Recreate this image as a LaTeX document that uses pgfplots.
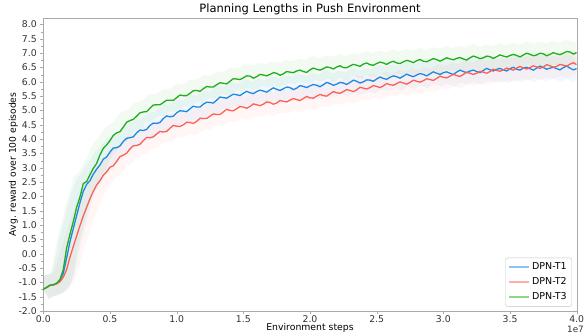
\documentclass[border=0pt]{standalone}
\usepackage{pgfplots}
\pgfplotsset{compat=1.18}
\usepackage{pgfplotstable}
\usepackage{fontspec}
\setmainfont{DejaVu Sans}
\definecolor{cT1}{RGB}{30,136,229}
\definecolor{cT2}{RGB}{255,95,85}
\definecolor{cT3}{RGB}{30,175,30}
\definecolor{spine}{RGB}{170,170,170}
\definecolor{ticktext}{RGB}{50,50,50}
\pgfplotstableread{
x t1 t2 t3
0.000 -1.24 -1.24 -1.24
0.025 -1.18 -1.18 -1.17
0.050 -1.10 -1.11 -1.10
0.075 -1.09 -1.09 -1.08
0.100 -1.04 -1.05 -1.03
0.125 -0.94 -0.98 -0.90
0.150 -0.68 -0.82 -0.55
0.175 -0.15 -0.55 0.20
0.200 0.42 -0.12 0.68
0.225 0.88 0.25 1.12
0.250 1.33 0.62 1.62
0.275 1.78 0.98 1.98
0.300 2.18 1.32 2.45
0.325 2.42 1.62 2.52
0.350 2.55 1.92 2.76
0.375 2.78 2.18 2.98
0.400 2.95 2.40 3.15
0.425 3.10 2.55 3.45
0.450 3.30 2.74 3.68
0.475 3.38 2.86 3.80
0.500 3.55 3.02 3.95
0.525 3.69 3.07 4.13
0.550 3.70 3.22 4.22
0.575 3.76 3.39 4.26
0.600 3.92 3.44 4.42
0.625 4.03 3.51 4.59
0.650 4.05 3.66 4.65
0.675 4.08 3.77 4.69
0.700 4.22 3.78 4.80
0.725 4.32 3.82 4.92
0.750 4.30 3.95 4.95
0.775 4.34 4.06 4.96
0.800 4.48 4.05 5.08
0.825 4.56 4.08 5.19
0.850 4.55 4.18 5.20
0.875 4.58 4.27 5.20
0.900 4.72 4.25 5.28
0.925 4.81 4.27 5.36
0.950 4.78 4.38 5.36
0.975 4.80 4.48 5.35
1.000 4.92 4.45 5.45
1.025 4.99 4.44 5.54
1.050 4.98 4.50 5.52
1.075 4.96 4.59 5.52
1.100 5.06 4.58 5.60
1.125 5.15 4.55 5.69
1.150 5.12 4.62 5.70
1.175 5.12 4.73 5.67
1.200 5.22 4.72 5.76
1.225 5.29 4.72 5.84
1.250 5.28 4.80 5.82
1.275 5.26 4.88 5.82
1.300 5.36 4.86 5.90
1.325 5.47 4.86 5.97
1.350 5.45 4.95 5.95
1.375 5.43 5.04 5.93
1.400 5.50 5.00 6.02
1.425 5.57 4.99 6.11
1.450 5.55 5.06 6.10
1.475 5.52 5.14 6.08
1.500 5.60 5.12 6.14
1.525 5.67 5.08 6.21
1.550 5.62 5.14 6.20
1.575 5.59 5.23 6.13
1.600 5.66 5.20 6.18
1.625 5.71 5.17 6.26
1.650 5.68 5.22 6.24
1.675 5.64 5.30 6.21
1.700 5.72 5.28 6.26
1.725 5.79 5.22 6.32
1.750 5.74 5.26 6.30
1.775 5.70 5.35 6.23
1.800 5.76 5.32 6.28
1.825 5.82 5.30 6.36
1.850 5.80 5.36 6.34
1.875 5.73 5.42 6.32
1.900 5.78 5.38 6.38
1.925 5.87 5.35 6.41
1.950 5.84 5.42 6.36
1.975 5.80 5.49 6.33
2.000 5.86 5.44 6.42
2.025 5.91 5.43 6.48
2.050 5.88 5.50 6.44
2.075 5.83 5.56 6.41
2.100 5.90 5.52 6.46
2.125 5.98 5.50 6.52
2.150 5.94 5.58 6.50
2.175 5.88 5.66 6.45
2.200 5.92 5.62 6.52
2.225 5.98 5.60 6.56
2.250 5.96 5.66 6.50
2.275 5.91 5.73 6.49
2.300 5.98 5.70 6.56
2.325 6.06 5.66 6.61
2.350 6.02 5.72 6.58
2.375 5.96 5.81 6.54
2.400 6.00 5.78 6.62
2.425 6.07 5.75 6.66
2.450 6.06 5.80 6.60
2.475 6.02 5.87 6.58
2.500 6.10 5.84 6.64
2.525 6.17 5.80 6.69
2.550 6.12 5.86 6.66
2.575 6.09 5.94 6.61
2.600 6.16 5.90 6.68
2.625 6.21 5.88 6.72
2.650 6.18 5.94 6.66
2.675 6.13 6.00 6.64
2.700 6.20 5.96 6.70
2.725 6.27 5.92 6.75
2.750 6.22 5.98 6.72
2.775 6.18 6.06 6.67
2.800 6.24 6.02 6.74
2.825 6.29 5.99 6.78
2.850 6.26 6.04 6.72
2.875 6.21 6.11 6.70
2.900 6.28 6.08 6.76
2.925 6.35 6.05 6.81
2.950 6.30 6.12 6.78
2.975 6.26 6.20 6.72
3.000 6.32 6.16 6.78
3.025 6.35 6.14 6.84
3.050 6.30 6.20 6.80
3.075 6.26 6.26 6.77
3.100 6.34 6.22 6.82
3.125 6.41 6.19 6.85
3.150 6.36 6.26 6.80
3.175 6.32 6.34 6.76
3.200 6.38 6.30 6.84
3.225 6.41 6.26 6.90
3.250 6.36 6.30 6.86
3.275 6.32 6.37 6.81
3.300 6.40 6.34 6.84
3.325 6.47 6.30 6.90
3.350 6.42 6.36 6.88
3.375 6.38 6.44 6.82
3.400 6.44 6.40 6.88
3.425 6.47 6.37 6.94
3.450 6.42 6.42 6.90
3.475 6.38 6.48 6.87
3.500 6.46 6.44 6.92
3.525 6.51 6.41 6.96
3.550 6.44 6.48 6.92
3.575 6.41 6.54 6.87
3.600 6.48 6.48 6.94
3.625 6.51 6.45 7.00
3.650 6.46 6.50 6.96
3.675 6.41 6.56 6.91
3.700 6.48 6.52 6.94
3.725 6.55 6.47 7.00
3.750 6.50 6.52 6.98
3.775 6.44 6.60 6.91
3.800 6.48 6.56 6.96
3.825 6.51 6.51 7.02
3.850 6.46 6.54 6.98
3.875 6.42 6.61 6.95
3.900 6.50 6.58 7.00
3.925 6.55 6.55 7.06
3.950 6.48 6.62 7.04
3.975 6.42 6.67 6.97
4.000 6.46 6.60 7.02
}\data
\begin{document}
\begin{tikzpicture}
\useasboundingbox (-43.3pt,-22pt) rectangle (540.7pt,311pt);
\begin{axis}[
  scale only axis,
  width=533.4pt, height=293.3pt,
  xmin=0, xmax=4, ymin=-2, ymax=8.24,
  axis line style={spine},
  xtick={0,0.5,...,4},
  ytick={-2,-1.5,...,8},
  minor y tick num=1,
  tick style={spine},
  tick align=outside,
  xtick pos=bottom, ytick pos=left,
  major tick length=3pt, minor tick length=2pt,
  ticklabel style={font=\fontsize{9.3}{10}\selectfont, text=ticktext},
  xticklabel style={yshift=2pt},
  /pgf/number format/assume math mode=true,
  /pgf/number format/.cd, fixed, fixed zerofill, precision=1, /pgfplots/.cd,
  scaled x ticks=false,
  title={Planning Lengths in Push Environment},
  title style={font=\fontsize{11.5}{12}\selectfont, text=black, yshift=-7pt},
  xlabel={Environment steps},
  ylabel={Avg. reward over 100 episodes},
  xlabel style={font=\fontsize{9.3}{10}\selectfont, at={(axis description cs:0.5,0)}, anchor=north, inner sep=0pt, yshift=-12.5pt},
  ylabel style={font=\fontsize{9.2}{10}\selectfont, yshift=-6pt},
  legend style={at={(0.991,0.015)}, anchor=south east,
    font=\fontsize{9.5}{11}\selectfont, draw=spine!70, rounded corners=2pt,
    row sep=2.5pt, inner xsep=3pt, inner ysep=3pt},
  legend cell align=left,
  legend image code/.code={\draw[#1, line width=1.6pt, opacity=0.5] (0pt,0pt) -- (20pt,0pt);},
]
\addplot[cT1, line width=22pt, opacity=0.06, forget plot] table[x=x,y=t1] {\data};
\addplot[cT2, line width=22pt, opacity=0.06, forget plot] table[x=x,y=t2] {\data};
\addplot[cT3, line width=22pt, opacity=0.06, forget plot] table[x=x,y=t3] {\data};
\addplot[cT1, line width=1.3pt] table[x=x,y=t1] {\data};
\addplot[cT2, line width=1.3pt] table[x=x,y=t2] {\data};
\addplot[cT3, line width=1.3pt] table[x=x,y=t3] {\data};
\legend{DPN-T1,DPN-T2,DPN-T3}
\end{axis}
\node[anchor=north east, font=\fontsize{8.8}{10}\selectfont, text=ticktext, inner sep=0pt] at (540.7pt,-14.5pt) {1e7};
\end{tikzpicture}
\end{document}
